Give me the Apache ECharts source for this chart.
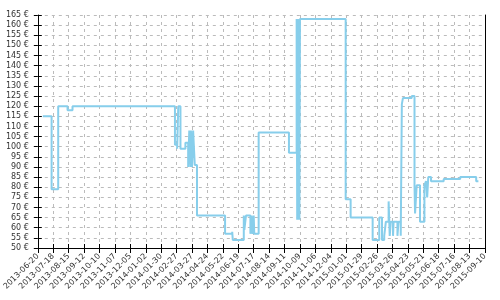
<!DOCTYPE html>
<html><head><meta charset="utf-8">
<script src="https://cdn.jsdelivr.net/npm/echarts@6/dist/echarts.min.js"></script>
<style>html,body{margin:0;padding:0;background:#fff}#c{width:500px;height:300px}</style>
</head><body><div id="c"></div>
<script>
const startDate = '2013-06-20';
const endDate = '2015-09-10';
const tickStepDays = 28;
const yMin = 50, yMax = 165, yStep = 5;
const dates = ['2013-06-29','2013-07-15','2013-07-27','2013-08-13','2013-08-22',
'2014-02-24','2014-02-28','2014-03-02','2014-03-06','2014-03-15','2014-03-20','2014-03-22','2014-03-24','2014-03-25','2014-03-27','2014-03-29','2014-04-01','2014-04-05',
'2014-05-26','2014-06-08','2014-06-09','2014-06-29','2014-06-30','2014-07-03','2014-07-11','2014-07-13','2014-07-15','2014-07-17','2014-07-18','2014-07-26',
'2014-09-19','2014-10-03','2014-10-04','2014-10-05','2014-10-06','2014-10-07','2014-10-08','2014-10-09',
'2014-12-31','2015-01-09','2015-02-18','2015-03-02','2015-03-07','2015-03-11','2015-03-14','2015-03-19','2015-03-21','2015-03-23','2015-03-27','2015-03-28','2015-04-04','2015-04-06','2015-04-10',
'2015-04-12','2015-04-14','2015-04-30','2015-05-05','2015-05-06','2015-05-09','2015-05-15','2015-05-23','2015-05-26','2015-05-28','2015-05-30','2015-06-04','2015-06-27','2015-07-27','2015-08-25','2015-08-29'];
const prices = [115,79,120,118,120,
101,99,120,99,102,90,108,90,108,90,108,91,66,
57,58,54,66,59,66,57,66,57,66,57,107,
97,163,64,163,64,163,64,163,
74,65,54,65,54,56,63,73,56,63,56,63,56,63,56,
121,124,125,81,67,81,63,81,83,75,85,83,84,85,83,83];

const DAY = 86400000;
const t0 = Date.parse(startDate + 'T00:00:00Z');
const dayOf = s => Math.round((Date.parse(s + 'T00:00:00Z') - t0) / DAY);
const fmt = d => new Date(t0 + d * DAY).toISOString().slice(0, 10);
const totalDays = dayOf(endDate);
const data = dates.map((d, i) => [dayOf(d), prices[i]]);

const font = 'DejaVu Sans';
const labelColor = '#333';
const splitStyle = {show: true, lineStyle: {color: '#bbb', type: [3, 4], width: 1}};

const chart = echarts.init(document.getElementById('c'), null, {renderer: 'canvas'});
chart.setOption({
  animation: false,
  grid: {left: 36, right: 15, top: 15, bottom: 52, containLabel: false},
  xAxis: [{
    type: 'value', min: 0, max: totalDays, interval: tickStepDays,
    axisLine: {show: true, onZero: false, lineStyle: {color: '#000', width: 1}},
    axisTick: {show: true, length: 5, lineStyle: {color: '#000'}},
    axisLabel: {rotate: 45, fontSize: 8, fontFamily: font, color: labelColor, margin: 7, formatter: v => fmt(v), showMinLabel: true, showMaxLabel: true},
    splitLine: splitStyle
  }, {
    type: 'value', min: 0, max: totalDays, interval: tickStepDays, position: 'bottom',
    axisLine: {show: false}, axisTick: {show: true, inside: true, length: 4, lineStyle: {color: '#000'}},
    axisLabel: {show: false}, splitLine: {show: false}
  }],
  yAxis: [{
    type: 'value', min: yMin, max: yMax, interval: yStep,
    axisLine: {show: true, onZero: false, lineStyle: {color: '#000', width: 1}},
    axisTick: {show: true, length: 4, lineStyle: {color: '#000'}},
    axisLabel: {fontSize: 8, fontFamily: font, color: labelColor, margin: 9, formatter: v => v + ' €'},
    splitLine: splitStyle
  }, {
    type: 'value', min: yMin, max: yMax, interval: yStep, position: 'left',
    axisLine: {show: false}, axisTick: {show: true, inside: true, length: 4, lineStyle: {color: '#000'}},
    axisLabel: {show: false}, splitLine: {show: false}
  }, {
    type: 'value', min: yMin, max: yMax, interval: yStep, position: 'right',
    axisLine: {show: true, onZero: false, lineStyle: {color: '#000', width: 1}},
    axisTick: {show: false}, axisLabel: {show: false}, splitLine: {show: false}
  }],
  series: [{
    type: 'line', step: 'end', data: data, showSymbol: false, symbol: 'none',
    lineStyle: {color: '#87ceeb', width: 2}, xAxisIndex: 0, yAxisIndex: 0
  }]
});
</script></body></html>
